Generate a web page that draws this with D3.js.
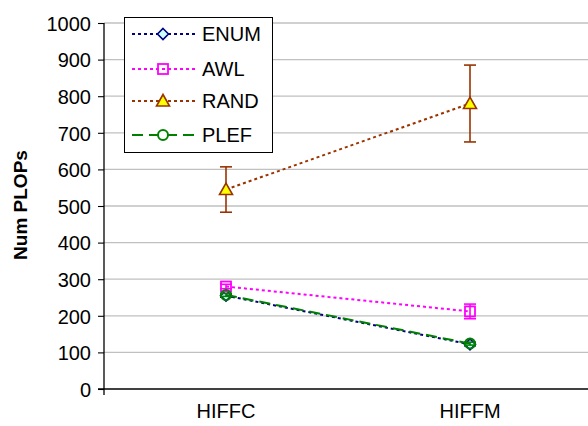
<!DOCTYPE html>
<html><head><meta charset="utf-8">
<script src="https://cdn.jsdelivr.net/npm/d3@7"></script>
<style>body{margin:0;background:#fff}svg{display:block}text{font-family:Arial,"Liberation Sans",sans-serif}</style>
</head><body><svg id="c" width="588" height="426"></svg>
<script>
const categories = ["HIFFC", "HIFFM"];
const seriesNames = ["ENUM", "AWL", "RAND", "PLEF"];
const enumVals = [255, 122];
const awlVals = [280, 212];
const randVals = [545, 780];
const plefVals = [257, 124];
const enumErr = [4, 4];
const awlErr = [6, 20];
const randErr = [62, 105];
const plefErr = [4, 4];
const yTicks = [0, 100, 200, 300, 400, 500, 600, 700, 800, 900, 1000];

(function () {
const series = [
  {name: "ENUM", vals: enumVals, err: enumErr, color: "#000080", dash: "3,3", marker: "diamond", fill: "#ccffff", lfill: "#ccffff"},
  {name: "AWL", vals: awlVals, err: awlErr, color: "#ff00ff", dash: "3,3", marker: "square", fill: "none", lfill: "none"},
  {name: "RAND", vals: randVals, err: randErr, color: "#993300", dash: "3,3", marker: "triangle", fill: "#ffff00", lfill: "#ffff00"},
  {name: "PLEF", vals: plefVals, err: plefErr, color: "#008000", dash: "11,6", marker: "circle", fill: "none", lfill: "#ffffff"}
];

const svg = d3.select("#c");
const mLeft = 104, mRight = 592, mTop = 23, mBottom = 389;
const x = d3.scaleBand().domain(categories).range([mLeft, mRight]);
const y = d3.scaleLinear().domain([0, 1000]).range([mBottom, mTop]);
const cx = c => x(c) + x.bandwidth() / 2;
const FONT = "Arial, 'Liberation Sans', sans-serif";

svg.append("g").selectAll("line").data(yTicks.filter(d => d > 0)).join("line")
  .attr("x1", mLeft).attr("x2", mRight).attr("y1", d => y(d)).attr("y2", d => y(d))
  .attr("stroke", "#c0c0c0").attr("stroke-width", 1.3);

const ya = svg.append("g").attr("transform", `translate(${mLeft},0)`)
  .call(d3.axisLeft(y).tickValues(yTicks).tickSize(6).tickPadding(7).tickFormat(d3.format("d")));
ya.select(".domain").attr("stroke", "#000").attr("stroke-width", 1.3).attr("d", `M0,${mTop}V${mBottom + 6}`);
ya.selectAll(".tick line").attr("stroke", "#000").attr("stroke-width", 1.1);
ya.selectAll(".tick text").attr("font-size", 20).attr("fill", "#000").attr("font-family", FONT).attr("dy", "0.36em");

const xa = svg.append("g").attr("transform", `translate(0,${mBottom})`)
  .call(d3.axisBottom(x).tickSize(0).tickPadding(15));
xa.select(".domain").attr("stroke", "#000").attr("stroke-width", 1.3).attr("d", `M${mLeft - 6},0H${mRight}`);
xa.selectAll(".tick text").attr("font-size", 20).attr("fill", "#000").attr("font-family", FONT);

svg.append("text").attr("transform", `translate(27,205) rotate(-90)`)
  .attr("text-anchor", "middle").attr("font-size", 19).attr("font-weight", "bold").text("Num PLOPs");

function drawMarker(g, type, px, py, color, fill) {
  if (type === "diamond") {
    g.append("path").attr("d", `M${px},${py - 5.5}L${px + 5.5},${py}L${px},${py + 5.5}L${px - 5.5},${py}Z`)
      .attr("fill", fill).attr("stroke", color).attr("stroke-width", 1.6);
  } else if (type === "square") {
    g.append("rect").attr("x", px - 5).attr("y", py - 5).attr("width", 10).attr("height", 10)
      .attr("fill", fill).attr("stroke", color).attr("stroke-width", 1.8);
  } else if (type === "triangle") {
    g.append("path").attr("d", `M${px},${py - 6.5}L${px + 6.5},${py + 5}L${px - 6.5},${py + 5}Z`)
      .attr("fill", fill).attr("stroke", color).attr("stroke-width", 1.6);
  } else {
    g.append("circle").attr("cx", px).attr("cy", py).attr("r", 5)
      .attr("fill", fill).attr("stroke", color).attr("stroke-width", 2);
  }
}

const line = d3.line().x((d, i) => cx(categories[i])).y(d => y(d));
series.forEach(s => {
  const g = svg.append("g");
  s.vals.forEach((v, i) => {
    const px = cx(categories[i]);
    const e = s.err[i];
    g.append("line").attr("x1", px).attr("x2", px).attr("y1", y(v + e)).attr("y2", y(v - e))
      .attr("stroke", s.color).attr("stroke-width", 1.6);
    [v + e, v - e].forEach(t => g.append("line").attr("x1", px - 6).attr("x2", px + 6)
      .attr("y1", y(t)).attr("y2", y(t)).attr("stroke", s.color).attr("stroke-width", 1.6));
  });
  g.append("path").datum(s.vals).attr("d", line).attr("fill", "none")
    .attr("stroke", s.color).attr("stroke-width", 2).attr("stroke-dasharray", s.dash);
  s.vals.forEach((v, i) => drawMarker(g, s.marker, cx(categories[i]), y(v), s.color, s.fill));
});

const lg = svg.append("g");
lg.append("rect").attr("x", 124.5).attr("y", 17.5).attr("width", 148).attr("height", 135)
  .attr("fill", "#fff").attr("stroke", "#000").attr("stroke-width", 1);
const legY = [34, 69, 101, 135];
series.forEach((s, i) => {
  const ly = legY[i];
  lg.append("line").attr("x1", 132).attr("x2", 195).attr("y1", ly).attr("y2", ly)
    .attr("stroke", s.color).attr("stroke-width", 2).attr("stroke-dasharray", s.dash);
  drawMarker(lg, s.marker, 163, ly, s.color, s.lfill);
  lg.append("text").attr("x", 202).attr("y", ly + 7).attr("font-size", 20).attr("font-family", FONT).text(s.name);
});
})();
</script></body></html>
